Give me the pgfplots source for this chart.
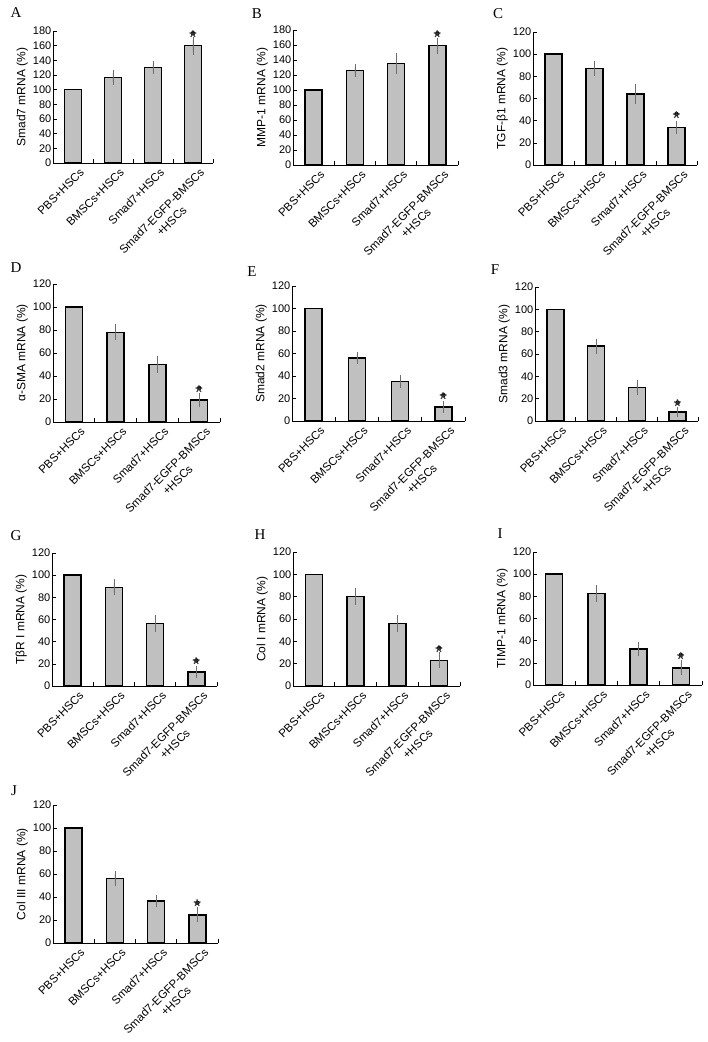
\documentclass[border=0pt]{standalone}
\usepackage{fontspec}
\setmainfont{Liberation Sans}
\newfontfamily\serifL{Liberation Serif}
\usepackage{pgfplots}
\pgfplotsset{compat=1.18}
\definecolor{barfill}{RGB}{192,192,192}
\definecolor{errgray}{RGB}{110,110,110}
\pgfplotsset{
  panel/.style={
    scale only axis, anchor=south west,
    xmin=-0.5, xmax=3.5, ymin=0,
    axis x line*=bottom, axis y line*=left,
    axis line style={line width=0.8pt},
    tick align=inside,
    xtick={0,1,2,3},
    xticklabels={PBS+HSCs,BMSCs+HSCs,Smad7+HSCs,{Smad7-EGFP-BMSCs\\+HSCs}},
    major x tick style={draw=none},
    minor xtick={0.5,1.5,2.5,3.5},
    minor tick length=4pt,
    major tick length=4pt,
    ytick distance=20,
    x tick label style={xshift=6pt, yshift=-3pt, rotate=45, anchor=north east, align=center, font=\fontsize{11.5}{14}\selectfont, inner sep=1pt},
    y tick label style={font=\fontsize{11}{12}\selectfont, inner sep=1.5pt},
    ylabel style={font=\fontsize{12}{14}\selectfont},
    /pgf/number format/assume math mode=true,
    tick style={black, line width=0.6pt},
    clip=false,
  },
  bar0/.style={ybar, bar width=17pt, fill=barfill, draw=black, line width=1.4pt},
  bars/.style={ybar, bar width=17pt, fill=barfill, draw=black, line width=1.4pt,
    error bars/.cd, y dir=both, y explicit,
    error bar style={errgray, line width=0.6pt},
    error mark options={errgray, mark size=3pt, line width=0.6pt}},
  star/.style={only marks, mark=*, mark options={draw=none, fill=none},
    nodes near coords={*},
    nodes near coords style={anchor=center, text=black!80, font=\fontsize{20}{20}\selectfont, yshift=-4.2pt}},
}
\begin{document}
\begin{tikzpicture}
\path[use as bounding box] (0pt,0pt) rectangle (708pt,-1042pt);
\node[font=\serifL\fontsize{15}{15}\selectfont] at (16pt,-13pt) {A};
\node[font=\serifL\fontsize{15}{15}\selectfont] at (257pt,-14pt) {B};
\node[font=\serifL\fontsize{15}{15}\selectfont] at (498pt,-14pt) {C};
\node[font=\serifL\fontsize{15}{15}\selectfont] at (16pt,-268pt) {D};
\node[font=\serifL\fontsize{15}{15}\selectfont] at (252pt,-272pt) {E};
\node[font=\serifL\fontsize{15}{15}\selectfont] at (495pt,-270pt) {F};
\node[font=\serifL\fontsize{15}{15}\selectfont] at (16pt,-536pt) {G};
\node[font=\serifL\fontsize{15}{15}\selectfont] at (260pt,-535pt) {H};
\node[font=\serifL\fontsize{15}{15}\selectfont] at (500pt,-534pt) {I};
\node[font=\serifL\fontsize{15}{15}\selectfont] at (14pt,-791pt) {J};

% A
\begin{axis}[panel, at={(53pt,-163pt)}, width=160pt, height=132pt, ymax=180, ylabel={Smad7 mRNA (\%)}]
\addplot[bar0] coordinates {(0,100)};
\addplot[bars] coordinates {(1,117) +- (0,6) (2,130) +- (0,5) (3,160) +- (0,8)};
\addplot[star] coordinates {(3,177)};
\end{axis}
% B
\begin{axis}[panel, at={(293pt,-165pt)}, width=165pt, height=135pt, ymax=180, ylabel={MMP-1 mRNA (\%)}]
\addplot[bar0] coordinates {(0,100)};
\addplot[bars] coordinates {(1,126) +- (0,5) (2,135) +- (0,10) (3,159) +- (0,7)};
\addplot[star] coordinates {(3,175.5)};
\end{axis}
% C
\begin{axis}[panel, at={(533pt,-165pt)}, width=164pt, height=133pt, ymax=120, ylabel={TGF-β1 mRNA (\%)}]
\addplot[bar0] coordinates {(0,100)};
\addplot[bars] coordinates {(1,87) +- (0,4) (2,64) +- (0,6) (3,34) +- (0,3)};
\addplot[star] coordinates {(3,46)};
\end{axis}
% D
\begin{axis}[panel, at={(53pt,-422pt)}, width=167pt, height=138pt, ymax=120, ylabel={α-SMA mRNA (\%)}]
\addplot[bar0] coordinates {(0,100)};
\addplot[bars] coordinates {(1,78) +- (0,4.5) (2,50) +- (0,4.5) (3,19) +- (0,3.5)};
\addplot[star] coordinates {(3,29.5)};
\end{axis}
% E
\begin{axis}[panel, at={(292pt,-421pt)}, width=173pt, height=135pt, ymax=120, ylabel={Smad2 mRNA (\%)}]
\addplot[bar0] coordinates {(0,100)};
\addplot[bars] coordinates {(1,56) +- (0,2.5) (2,35) +- (0,3) (3,12.5) +- (0,3)};
\addplot[star] coordinates {(3,23)};
\end{axis}
% F
\begin{axis}[panel, at={(535pt,-421pt)}, width=163pt, height=134pt, ymax=120, ylabel={Smad3 mRNA (\%)}]
\addplot[bar0] coordinates {(0,100)};
\addplot[bars] coordinates {(1,67) +- (0,4) (2,30) +- (0,4) (3,8) +- (0,2)};
\addplot[star] coordinates {(3,16.5)};
\end{axis}
% G
\begin{axis}[panel, at={(52pt,-686pt)}, width=165pt, height=133pt, ymax=120, ylabel={TβR I mRNA (\%)}]
\addplot[bar0] coordinates {(0,100)};
\addplot[bars] coordinates {(1,89) +- (0,4.5) (2,56.5) +- (0,5) (3,12.5) +- (0,3)};
\addplot[star] coordinates {(3,23)};
\end{axis}
% H
\begin{axis}[panel, at={(293pt,-686pt)}, width=167pt, height=134pt, ymax=120, ylabel={Col I mRNA (\%)}]
\addplot[bar0] coordinates {(0,100)};
\addplot[bars] coordinates {(1,80) +- (0,5) (2,56) +- (0,4.5) (3,23) +- (0,4.5)};
\addplot[star] coordinates {(3,34)};
\end{axis}
% I
\begin{axis}[panel, at={(533pt,-685pt)}, width=169pt, height=133pt, ymax=120, ylabel={TIMP-1 mRNA (\%)}]
\addplot[bar0] coordinates {(0,100)};
\addplot[bars] coordinates {(1,82.5) +- (0,5) (2,32.5) +- (0,4) (3,15.5) +- (0,4)};
\addplot[star] coordinates {(3,27)};
\end{axis}
% J
\begin{axis}[panel, at={(53pt,-943pt)}, width=165pt, height=138pt, ymax=120, ylabel={Col III mRNA (\%)}]
\addplot[bar0] coordinates {(0,100)};
\addplot[bars] coordinates {(1,56) +- (0,4) (2,36.5) +- (0,3) (3,24.5) +- (0,4)};
\addplot[star] coordinates {(3,35)};
\end{axis}
\end{tikzpicture}
\end{document}
